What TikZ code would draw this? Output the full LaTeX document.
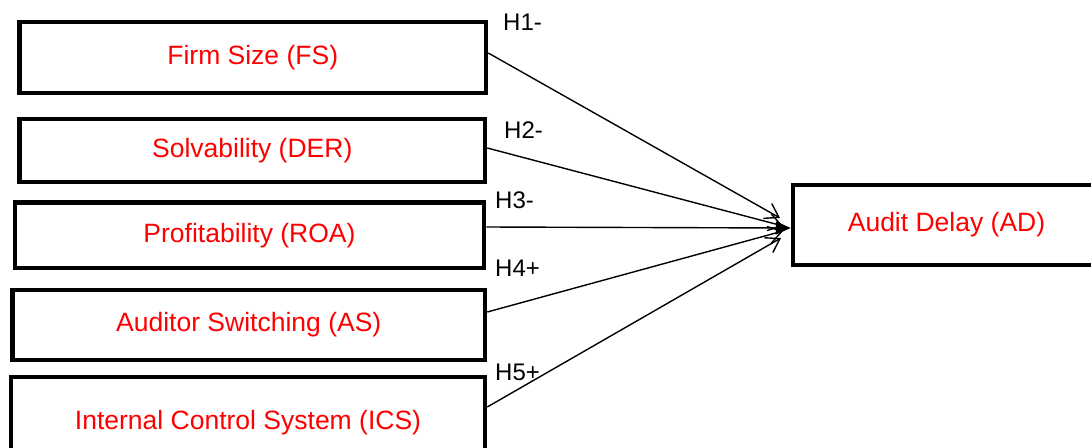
\documentclass[tikz,border=0pt]{standalone}
\usepackage{fontspec}
\setmainfont{Liberation Sans}
\usetikzlibrary{arrows.meta}
\tikzset{
  varbox/.style={draw=black, line width=4.5pt, rectangle, inner sep=0pt,
    text=red, font=\fontsize{26.5}{30}\selectfont},
  hlabel/.style={anchor=base west, inner sep=0pt, text=black,
    font=\fontsize{24}{28}\selectfont},
  arr/.style={draw=black, line width=1.4pt,
    -{Straight Barb[length=13pt,width=17pt,line width=1.4pt]}},
  arrf/.style={draw=black, line width=1.4pt,
    -{Triangle[length=15pt,width=13pt]}}
}
\begin{document}
\begin{tikzpicture}[x=1pt,y=-1pt]
\clip (0,0) rectangle (1091,447);
\fill[white] (0,0) rectangle (1091,447);
% boxes
\node[varbox, minimum width=466.5pt, minimum height=71pt] (fs) at (252.75,57.5) {Firm Size (FS)};
\node[varbox, minimum width=465.5pt, minimum height=63pt] (der) at (252.25,150.5) {Solvability (DER)};
\node[varbox, minimum width=469pt, minimum height=65.5pt] (roa) at (249.5,235.25) {Profitability (ROA)};
\node[varbox, minimum width=472.5pt, minimum height=70pt] (as) at (248.75,325) {Auditor Switching (AS)};
\node[varbox, minimum width=474pt, minimum height=92pt] (ics) at (248,423) {Internal Control System (ICS)};
\node[varbox, minimum width=307pt, minimum height=80pt] (ad) at (946.5,225) {Audit Delay (AD)};
% arrow tips
\coordinate (t1) at (780,218);
\coordinate (t2) at (783,226);
\coordinate (t4) at (783,231);
\coordinate (t5) at (781,238);
% connectors
\draw[arr] (fs.east |- 0,53) -- (t1);
\draw[arr] (der.east |- 0,148) -- (t2);
\draw[arrf] (roa.east |- 0,227) -- (ad.west |- 0,228);
\draw[arr] (as.east |- 0,312) -- (t4);
\draw[arr] (ics.east |- 0,407) -- (t5);
% labels
\node[hlabel] (h1) at (503,30.7) {H1-};
\node[hlabel] (h2) at (504,138) {H2-};
\node[hlabel] (h3) at (495,208) {H3-};
\node[hlabel] (h4) at (495,276) {H4+};
\node[hlabel] (h5) at (495,380) {H5+};
\end{tikzpicture}
\end{document}
